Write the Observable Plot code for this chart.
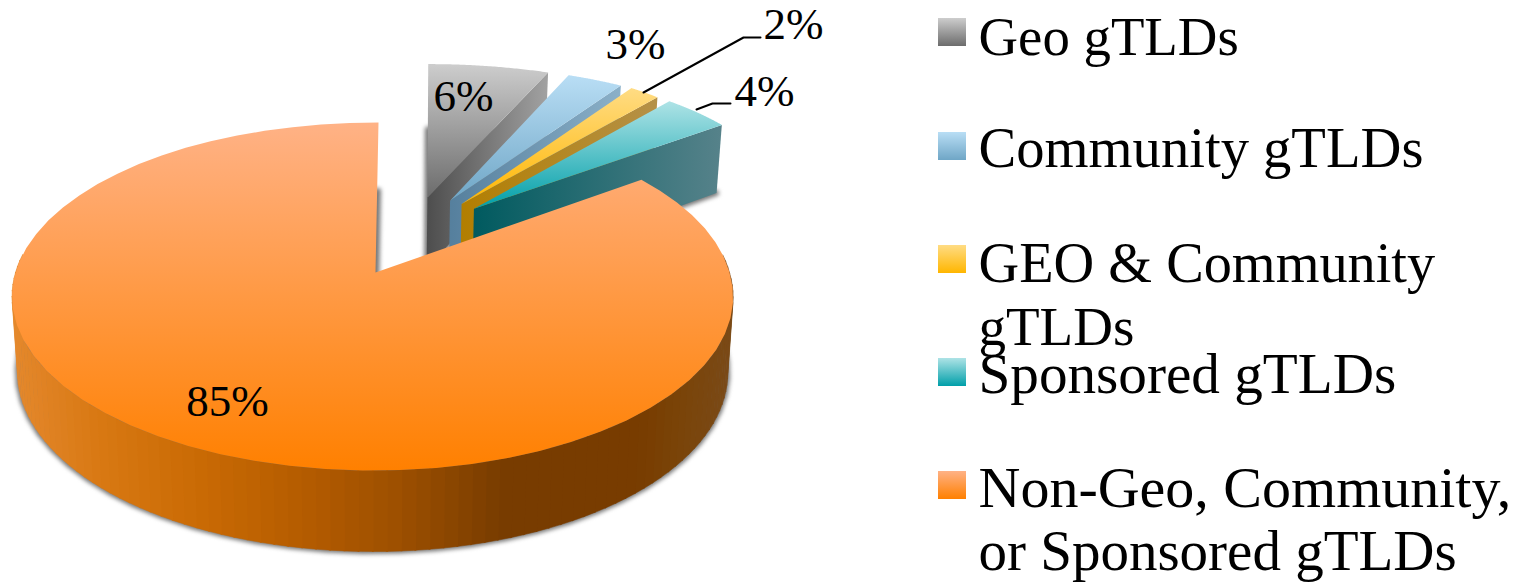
<!DOCTYPE html>
<html>
<head>
<meta charset="utf-8">
<style>html,body{margin:0;padding:0;background:#fff}svg{display:block}</style>
<script src="https://cdn.jsdelivr.net/npm/d3@7"></script>
<script src="https://cdn.jsdelivr.net/npm/@observablehq/plot@0.6"></script>
</head>
<body>
<div id="chart"></div>
<script>
const categories = ["Geo gTLDs","Community gTLDs","GEO & Community gTLDs","Sponsored gTLDs","Non-Geo, Community, or Sponsored gTLDs"];
const shares = [6,3,2,4,85];
const shareLabels = ["6%","3%","2%","4%","85%"];
const labelX = [463,635,793,764,227];
const labelY = [112,60,40,107,417];
const legendLines = [["Geo gTLDs"],["Community gTLDs"],["GEO & Community","gTLDs"],["Sponsored gTLDs"],["Non-Geo, Community,","or Sponsored gTLDs"]];
const legendBaselines = [[55],[167],[282,345],[393],[507,570]];
const legendSizes = [[54.8],[56.6],[56.3,55],[57.2],[58,57]];
const swatchTop = [18,132,245,358,471];
const topColors = [["#cdcdcd","#6c6c6c"],["#b9def5","#6fa6c6"],["#ffdc84","#ffb600"],["#aee3e6","#009fa9"],["#ffb286","#ff8000"]];
const faceColors = [["#4d4d4d","#a2a2a2"],["#557f9d","#8bb0c8"],["#b27e00","#b59148"],["#005a5f","#56828a"]];
const wallStopX = [12,100,200,300,400,450,500,640,680,735];
const wallStopC = ["#e4882c","#d87812","#c96a04","#b55c00","#9c4f00","#8a4600","#783c00","#783c00","#7a4408","#7a4a18"];
const lensAngles = [0,21.6,32.4,39.6,54,90,180,330,360];
const lensShift = [7,16,15.5,8,0,-2,0,0,5];

const cx = 373, cy = 272, R = 358, G = 170.7, K = 0.138, EX = 0.25;
const total = d3.sum(shares);
let acc = 0;
const slices = shares.map((v,i)=>{const a0=acc/total*360; acc+=v; const a1=acc/total*360; return {i,a0,a1,mid:(a0+a1)/2};});
const rad = d=>d*Math.PI/180;
const main = slices[4];
const lens = d3.scaleLinear().domain(lensAngles).range(lensShift).clamp(true);
const ox = -EX*Math.sin(rad(main.mid)), oy = -EX*Math.cos(rad(main.mid));
function P(s,a,r,low){
  const X = ox+EX*Math.sin(rad(s.mid))+r*Math.sin(rad(a));
  const Y = oy+EX*Math.cos(rad(s.mid))+r*Math.cos(rad(a));
  const w = 1+K*Y;
  let x = R*X/w, y = -G*Y/w;
  if (r===1) x += lens(a);
  if (s.i===4 && r===0) x += 2;
  if (low){ x*=0.985; y+=74.5-6.5*Y; }
  return {x:cx+x,y:cy+y};
}
const arc=(s,a0,a1,low,n=60)=>d3.range(n+1).map(k=>P(s,a0+(a1-a0)*k/n,1,low));
const topShape=s=>[P(s,0,0,false),...arc(s,s.a0,s.a1,false),P(s,0,0,false)];
const lowShape=s=>[P(s,0,0,true),...arc(s,s.a0,s.a1,true),P(s,0,0,true)];
const faceShape=s=>[P(s,0,0,false),P(s,s.a1,1,false),P(s,s.a1,1,true),P(s,0,0,true),P(s,0,0,false)];

const wallColor=d3.scaleLinear().domain(wallStopX).range(wallStopC).clamp(true);
const wall=[];
for(let a=84;a<276;a+=2){
  const q=[P(main,a,1,false),P(main,a+2.2,1,false),P(main,a+2.2,1,true),P(main,a,1,true)];
  const c=d3.color(wallColor((q[0].x+q[1].x)/2)).formatHex();
  q.forEach(p=>wall.push({...p,k:a,c}));
}
function defs(){
  const d=d3.create("svg:defs");
  const grad=(id,c,h)=>{const g=d.append("linearGradient").attr("id",id).attr("x1",0).attr("y1",0).attr("x2",h?1:0).attr("y2",h?0:1);
    g.append("stop").attr("offset",0).attr("stop-color",c[0]);g.append("stop").attr("offset",1).attr("stop-color",c[1]);};
  topColors.forEach((c,i)=>grad("top"+i,c,false));
  faceColors.forEach((c,i)=>grad("face"+i,c,true));
  return d.node();
}
const xy={x:"x",y:"y"};
const marks=[defs];
const shadow=(s)=>Plot.line(lowShape(s),{...xy,fill:"#777",stroke:"#777",strokeWidth:5,strokeLinejoin:"round",imageFilter:"blur(2px)",curve:"linear"});
slices.forEach(s=>marks.push(shadow(s)));
slices.slice(0,4).forEach(s=>{
  marks.push(Plot.line(faceShape(s),{...xy,fill:`url(#face${s.i})`,stroke:"none"}));
  marks.push(Plot.line(topShape(s),{...xy,fill:`url(#top${s.i})`,stroke:"none"}));
});
marks.push(Plot.line(wall,{...xy,z:"k",fill:"c",stroke:"c",strokeWidth:0.5}));
marks.push(Plot.line(topShape(main),{...xy,fill:"url(#top4)",stroke:"none"}));
const leaderA=[{x:643,y:92},{x:743,y:37},{x:760,y:37}];
const leaderB=[{x:696,y:109},{x:712,y:103},{x:730,y:103}];
marks.push(Plot.line(leaderA,{...xy,stroke:"#000",strokeWidth:2}));
marks.push(Plot.line(leaderB,{...xy,stroke:"#000",strokeWidth:2}));
const font="Liberation Serif";
marks.push(Plot.text(shareLabels.map((t,i)=>({t,x:labelX[i],y:labelY[i]})),{...xy,text:"t",fontFamily:font,fontSize:45,fill:"#000",textAnchor:"middle",lineAnchor:"bottom",dy:-2}));
const swatches=categories.map((c,i)=>({c,i,x1:938,x2:966,y1:swatchTop[i],y2:swatchTop[i]+28}));
swatches.forEach(s=>marks.push(Plot.rect([s],{x1:"x1",x2:"x2",y1:"y1",y2:"y2",fill:`url(#top${s.i})`,inset:0})));
const lines=legendLines.flatMap((ls,i)=>ls.map((t,j)=>({t,x:978,y:legendBaselines[i][j],s:legendSizes[i][j]})));
lines.forEach(l=>marks.push(Plot.text([l],{...xy,text:"t",fontFamily:font,fontSize:l.s,fill:"#000",textAnchor:"start",lineAnchor:"bottom",dy:-1})));

const chart=Plot.plot({width:1526,height:582,margin:0,
  x:{domain:[0,1526],range:[0,1526],axis:null},
  y:{domain:[0,582],range:[0,582],axis:null},
  color:{type:"identity"},
  marks});
document.getElementById("chart").append(chart);
</script>
</body>
</html>
